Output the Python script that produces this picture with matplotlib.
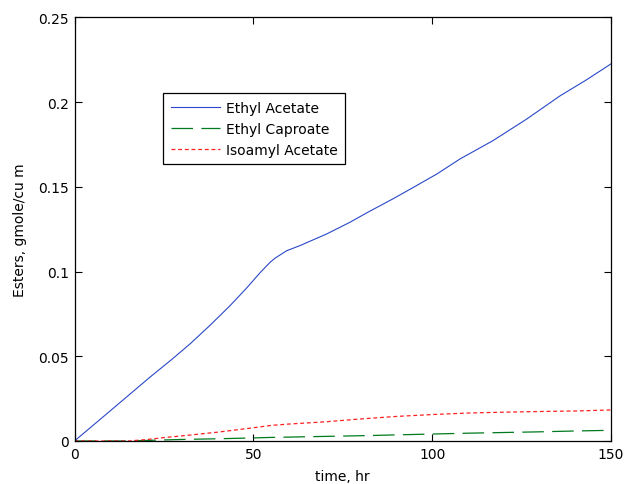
import matplotlib
matplotlib.use("Agg")
import matplotlib.pyplot as plt

# Ester concentrations over fermentation time
time_hr = [0, 10, 21, 27, 32.3, 38, 43.5, 48, 52, 54.7, 56, 59.3, 63, 70.5, 77, 82,
           89, 95, 101.3, 107.8, 117, 126.4, 135.8, 143, 150]
ethyl_acetate = [0.0, 0.0178, 0.0375, 0.0478, 0.0573, 0.0685, 0.0799, 0.0900, 0.0996, 0.1055,
                 0.1078, 0.1123, 0.1153, 0.1222, 0.1291, 0.1350, 0.1429, 0.1500, 0.1576, 0.1665,
                 0.1773, 0.1900, 0.2038, 0.2130, 0.2226]

time_minor = [0, 10, 15, 20, 25, 30, 40, 50, 55, 60, 70, 80, 90, 100, 110, 120, 130, 140, 150]
ethyl_caproate = [0.0, 0.0, 0.0, 0.0003, 0.0006, 0.0009, 0.0013, 0.0018, 0.0021, 0.0023, 0.0027,
                  0.0031, 0.0036, 0.0041, 0.0046, 0.0050, 0.0054, 0.0059, 0.0063]
isoamyl_acetate = [0.0, 0.0, 0.0, 0.0008, 0.0020, 0.0030, 0.0052, 0.0078, 0.0092, 0.0100, 0.0113,
                   0.0130, 0.0145, 0.0156, 0.0165, 0.0170, 0.0174, 0.0177, 0.0183]

x_ticks = [0, 50, 100, 150]
y_ticks = [0, 0.05, 0.1, 0.15, 0.2, 0.25]
y_tick_labels = ["0", "0.05", "0.1", "0.15", "0.2", "0.25"]

plt.rcParams["font.family"] = ["DejaVu Sans"]
plt.rcParams["lines.scale_dashes"] = False

fig = plt.figure(figsize=(6.25, 4.85), dpi=100)
ax = fig.add_axes([0.1192, 0.0887, 0.8584, 0.8732])

ax.plot(time_hr, ethyl_acetate, color="#2a48c8", lw=0.8, label="Ethyl Acetate")
ax.plot(time_minor, ethyl_caproate, color="#007a1e", lw=0.9, dashes=(15.5, 6.0),
        label="Ethyl Caproate")
ax.plot(time_minor, isoamyl_acetate, color="#ff2020", lw=0.9, dashes=(2.8, 2.0),
        label="Isoamyl Acetate")

ax.set_xlim(0, 150)
ax.set_ylim(0, 0.25)
ax.set_xticks(x_ticks)
ax.set_yticks(y_ticks)
ax.set_yticklabels(y_tick_labels)
ax.tick_params(direction="in", length=5, width=0.8, top=True, right=True,
               labelsize=10, colors="black", pad=4)
for s in ax.spines.values():
    s.set_linewidth(0.9)

ax.set_xlabel("time, hr", fontsize=10, labelpad=6)
ax.set_ylabel("Esters, gmole/cu m", fontsize=10, labelpad=8)

leg = ax.legend(loc="upper left", bbox_to_anchor=(0.1655, 0.821), borderaxespad=0,
                fontsize=10, handlelength=3.5, handletextpad=0.45, labelspacing=0.5,
                borderpad=0.55, fancybox=False, framealpha=1, edgecolor="black")
leg.get_frame().set_linewidth(0.9)

fig.savefig("out.png", dpi=100)
